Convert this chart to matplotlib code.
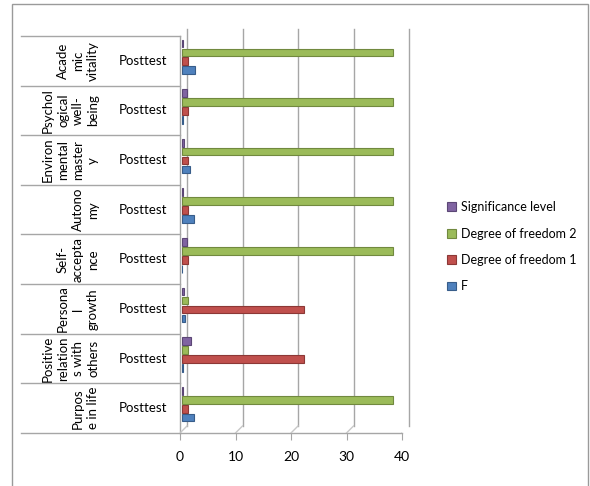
import matplotlib
matplotlib.use("Agg")
import matplotlib.pyplot as plt
from matplotlib.transforms import offset_copy
from matplotlib.patches import Rectangle
from matplotlib.lines import Line2D

# bottom to top, as drawn
groups = ["Purpose in life", "Positive relations with others", "Personal growth",
          "Self-acceptance", "Autonomy", "Environmental mastery",
          "Psychological well-being", "Academic vitality"]
group_labels = ["Purpos\ne in life", "Positive\nrelation\ns with\nothers", "Persona\nl\ngrowth",
                "Self-\naccepta\nnce", "Autono\nmy", "Environ\nmental\nmaster\ny",
                "Psychol\nogical\nwell-\nbeing", "Acade\nmic\nvitality"]
sub_label = "Posttest"

series_names = ["F", "Degree of freedom 1", "Degree of freedom 2", "Significance level"]
f_vals = [2.25, 0.1, 0.6, 0.05, 2.1, 1.5, 0.1, 2.3]
df1_vals = [1, 22, 22, 1, 1, 1, 1, 1]
df2_vals = [38, 1, 1, 38, 38, 38, 38, 38]
sig_vals = [0.2, 1.7, 0.3, 0.9, 0.2, 0.35, 0.9, 0.2]
colors = ["#4F81BD", "#C0504D", "#9BBB59", "#8064A2"]
edges = ["#385D8A", "#8C3836", "#71893F", "#5C4776"]
xticks = [0, 10, 20, 30, 40]

FONT = ["Lato", "DejaVu Sans"]
plt.rcParams["font.family"] = FONT
plt.rcParams["font.size"] = 9.5

W, H = 590, 486
fig = plt.figure(figsize=(W / 100, H / 100), dpi=100)

# outer chart border
fig.patches.append(Rectangle((12 / W, -0.01), (588 - 12) / W, (H - 4) / H + 0.01,
                             transform=fig.transFigure, fill=False,
                             edgecolor="#9a9a9a", linewidth=1))

x0, x1, ytop, ybot = 180, 402, 36, 433
ax = fig.add_axes([x0 / W, (H - ybot) / H, (x1 - x0) / W, (ybot - ytop) / H])
ax.set_xlim(0, 40)
ax.set_ylim(-0.5, len(groups) - 0.5)
for s in ax.spines.values():
    s.set_visible(False)
ax.patch.set_alpha(0)

grid_c = "#a6a6a6"
depth = 7
back = offset_copy(ax.transData, fig=fig, x=depth, y=depth, units="dots")
# back wall gridlines
for t in xticks:
    ax.plot([t, t], [-0.5, len(groups) - 0.5], color=grid_c, lw=1, transform=back,
            clip_on=False)
# front left wall edge + top slant
ax.plot([0, 0], [-0.5, len(groups) - 0.5], color=grid_c, lw=1, clip_on=False)
ax.add_line(Line2D([x0, x0 + depth], [H - ytop, H - ytop + depth], color=grid_c, lw=1,
                   transform=None))
# floor
ax.plot([0, 40], [-0.5, -0.5], color=grid_c, lw=1, clip_on=False)
for t in xticks:
    px = x0 + t * (x1 - x0) / 40
    ax.add_line(Line2D([px, px + depth], [H - ybot, H - ybot + depth], color="#c8c8c8",
                       lw=1, transform=None))

bar_tr = offset_copy(ax.transData, fig=fig, x=2, y=0, units="dots")
offsets = [-0.19, -0.01, 0.17, 0.35]
data = [f_vals, df1_vals, df2_vals, sig_vals]
handles = []
for i, vals in enumerate(data):
    ys = [g + offsets[i] for g in range(len(groups))]
    b = ax.barh(ys, vals, height=0.155, color=colors[i], edgecolor=edges[i],
                linewidth=0.8, transform=bar_tr, label=series_names[i], zorder=3)
    handles.append(b)

ax.set_xticks(xticks)
ax.set_xticklabels([str(t) for t in xticks], fontsize=10)
ax.tick_params(axis="x", length=5, color=grid_c, pad=8)
ax.set_yticks([])

# category table on the left
tr = ax.get_yaxis_transform()
lx = (21 - x0) / (x1 - x0)
for k in range(len(groups) + 1):
    ax.plot([lx, 0], [k - 0.5, k - 0.5], color=grid_c, lw=1, transform=tr, clip_on=False)
for k, lab in enumerate(group_labels):
    ax.text((99 - x0) / (x1 - x0), k, lab, transform=tr, rotation=90, ha="right",
            va="center", multialignment="center", fontsize=9.5, linespacing=1.3)
    ax.text((143 - x0) / (x1 - x0), k, sub_label, transform=tr, ha="center",
            va="center", fontsize=9.5)

leg = fig.legend(handles[::-1], series_names[::-1], loc="upper left",
                 bbox_to_anchor=(436 / W, 1 - 190 / H), frameon=False,
                 handlelength=0.7, handleheight=0.7, handletextpad=0.4,
                 labelspacing=1.15, fontsize=9)

fig.savefig("out.png", dpi=100)
